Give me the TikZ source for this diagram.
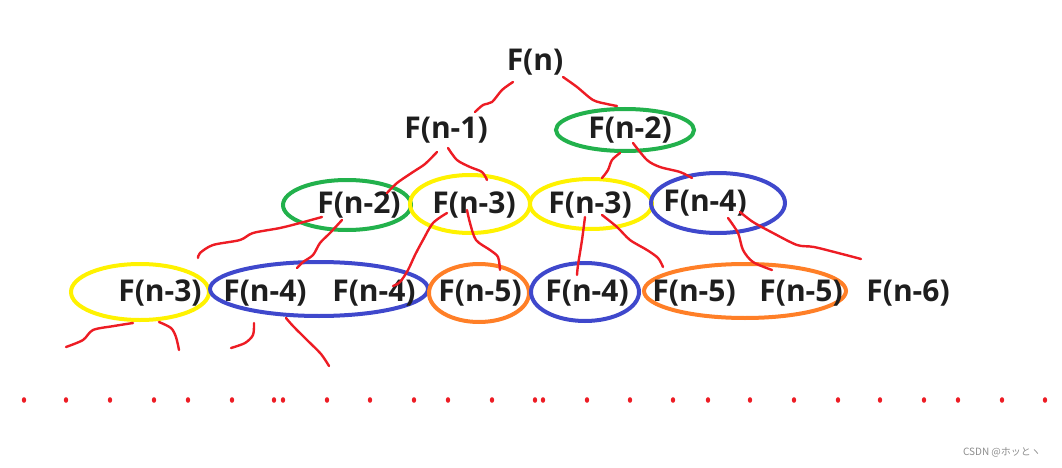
\documentclass[tikz,border=0pt]{standalone}
\usepackage{fontspec}
\setmainfont{Open Sans}
\newfontfamily\cjkfont{Noto Sans CJK JP}
\definecolor{pred}{HTML}{ED1C24}
\definecolor{pgreen}{HTML}{22B14C}
\definecolor{pyellow}{HTML}{FFF200}
\definecolor{pblue}{HTML}{3F48CC}
\definecolor{porange}{HTML}{FF7F27}
\definecolor{ptext}{HTML}{1E1E1E}
\tikzset{
  lab/.style={inner sep=0pt, text=ptext, font=\fontsize{30}{36}\selectfont\bfseries},
  ring/.style={line width=4pt},
  stroke/.style={pred, line width=2.4pt, line cap=round, line join=round},
  dotmark/.style={fill=pred, draw=none},
}
\begin{document}
\begin{tikzpicture}[x=1pt,y=-1pt]
\useasboundingbox (0,0) rectangle (1062,468);
% ellipses
\draw[ring,pgreen] (625,130) ellipse (69pt and 21pt);
\draw[ring,pgreen] (347,205) ellipse (64pt and 25pt);
\draw[ring,pyellow] (470,204) ellipse (60pt and 29pt);
\draw[ring,pyellow] (591,204) ellipse (61pt and 25pt);
\draw[ring,pblue] (718,203) ellipse (67pt and 30pt);
\draw[ring,pyellow] (140,292) ellipse (69pt and 28pt);
\draw[ring,pblue] (319,289) ellipse (109pt and 27pt);
\draw[ring,porange] (479,293) ellipse (50pt and 29pt);
\draw[ring,pblue] (585,292) ellipse (54pt and 29pt);
\draw[ring,porange] (745,291) ellipse (101pt and 27pt);
% labels
\node[lab] (a) at (535,62) {F(n)};
\node[lab] (b) at (446,130) {F(n-1)};
\node[lab] (c) at (630,130) {F(n-2)};
\node[lab] (d) at (359,205) {F(n-2)};
\node[lab] (e) at (474,205) {F(n-3)};
\node[lab] (f) at (590,205) {F(n-3)};
\node[lab] (g) at (705,203) {F(n-4)};
\node[lab] (h) at (160,293) {F(n-3)};
\node[lab] (i) at (265,293) {F(n-4)};
\node[lab] (j) at (374,293) {F(n-4)};
\node[lab] (k) at (480,293) {F(n-5)};
\node[lab] (l) at (587,293) {F(n-4)};
\node[lab] (m) at (694,293) {F(n-5)};
\node[lab] (o) at (801,293) {F(n-5)};
\node[lab] (p) at (908,293) {F(n-6)};
% red hand-drawn strokes
\draw[stroke] plot[smooth] coordinates {(513,82) (502,90) (492,102) (483,105) (475,112)};
\draw[stroke] plot[smooth] coordinates {(563,77) (577,87) (593,100) (607,104) (617,106)};
\draw[stroke] plot[smooth] coordinates {(437,152) (425,164) (413,172) (397,183) (387,193)};
\draw[stroke] plot[smooth] coordinates {(448,148) (457,160) (470,167) (482,172) (487,180)};
\draw[stroke] plot[smooth] coordinates {(620,153) (612,160) (608,170) (602,178)};
\draw[stroke] plot[smooth] coordinates {(633,143) (647,160) (660,167) (680,172) (692,178)};
\draw[stroke] plot[smooth] coordinates {(322,217) (300,223) (280,228) (253,233) (240,240) (213,245) (200,253) (198,258)};
\draw[stroke] plot[smooth] coordinates {(342,220) (330,233) (320,243) (313,255) (303,262) (297,268)};
\draw[stroke] plot[smooth] coordinates {(447,213) (433,223) (423,240) (415,255) (408,270) (400,282) (393,286)};
\draw[stroke] plot[smooth] coordinates {(467,210) (470,223) (476,240) (490,250) (498,257) (500,270)};
\draw[stroke] plot[smooth] coordinates {(585,217) (582,240) (578,265) (577,275)};
\draw[stroke] plot[smooth] coordinates {(602,215) (617,227) (630,240) (647,250) (658,258) (663,267)};
\draw[stroke] plot[smooth] coordinates {(728,218) (738,233) (743,250) (753,262) (772,270)};
\draw[stroke] plot[smooth] coordinates {(740,212) (753,222) (773,233) (797,245) (814,247) (842,254) (861,259)};
\draw[stroke] plot[smooth] coordinates {(133,323) (114,326) (93,330) (83,340) (66,347)};
\draw[stroke] plot[smooth] coordinates {(159,322) (171,328) (176,337) (179,350)};
\draw[stroke] plot[smooth] coordinates {(254,323) (253,335) (245,343) (231,348)};
\draw[stroke] plot[smooth] coordinates {(286,318) (293,326) (307,340) (321,354) (329,366)};
% dots
\foreach \dx in {24,66,110,154,188,232,274,283,327,370,414,448,492,535,543,587,630,673,708,750,794,838,880,924,958,1002,1045}
  \fill[dotmark] (\dx,400) ellipse (2.2pt and 2.8pt);
% watermark
\node[inner sep=0pt, text=black!45, font=\cjkfont\fontsize{10}{12}\selectfont] (wm) at (1002,452) {CSDN @ホッとヽ};
\end{tikzpicture}
\end{document}
